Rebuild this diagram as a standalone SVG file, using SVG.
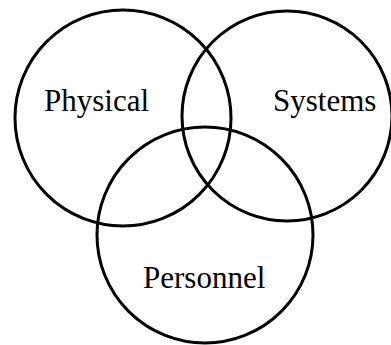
<svg xmlns="http://www.w3.org/2000/svg" width="391" height="345" viewBox="0 0 391 345">
<style>
.c{fill:none;stroke:#000;stroke-width:3}
.t{font-family:"Liberation Serif","Times New Roman",serif;font-size:31px;fill:#000}
</style>
<rect width="391" height="345" fill="#fff"/>
<g id="physical"><circle class="c" cx="123" cy="118" r="108"/><text class="t" x="44" y="111">Physical</text></g>
<g id="systems"><circle class="c" cx="287" cy="116" r="105"/><text class="t" x="273" y="111">Systems</text></g>
<g id="personnel"><circle class="c" cx="205" cy="235" r="108"/><text class="t" x="143" y="288">Personnel</text></g>
<g id="connectors"/>
</svg>
